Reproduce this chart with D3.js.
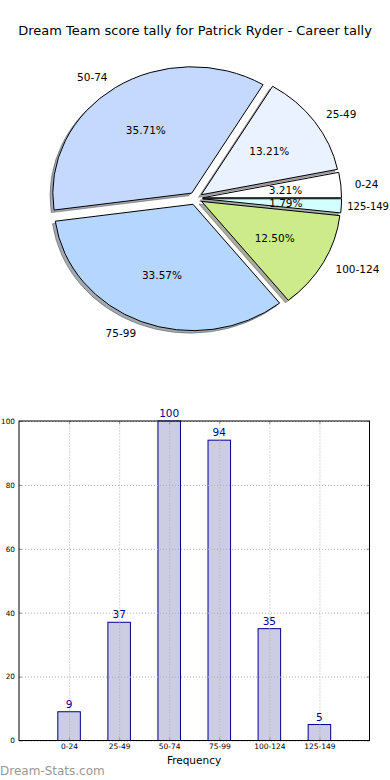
<!DOCTYPE html>
<html><head><meta charset="utf-8">
<script src="https://cdn.jsdelivr.net/npm/d3@7"></script>
<style>
html,body{margin:0;padding:0;background:#fff;}
svg{display:block;font-family:"DejaVu Sans",sans-serif;}
</style></head>
<body>
<svg id="c" width="390" height="780"></svg>
<script>
const titleText = "Dream Team score tally for Patrick Ryder - Career tally";
const categories = ["0-24","25-49","50-74","75-99","100-124","125-149"];
const counts = [9,37,100,94,35,5];
const yTicks = [0,20,40,60,80,100];
const pieColors = ["#ffffff","#eaf1ff","#c5d9ff","#b5d6ff","#cdeb8b","#d4ffff"];

const svg = d3.select("#c");
svg.append("rect").attr("width",390).attr("height",780).attr("fill","#fff");

svg.append("text").attr("x",195).attr("y",30).attr("text-anchor","middle")
  .attr("dominant-baseline","central").attr("font-size",13).attr("fill","#000").text(titleText);

// ---------- Pie ----------
const cx = 195.6, cy = 198.4, rx = 139, ry = 126.4, explode = 0.05;
const total = d3.sum(counts);
const pie = d3.pie().sort(null).startAngle(0).endAngle(2*Math.PI);
const arcsData = pie(counts);
const arc = d3.arc().innerRadius(0).outerRadius(1);
function toD3(a){ // math angle (ccw from east) -> d3 arc angles
  return {startAngle: Math.PI/2 - a.endAngle, endAngle: Math.PI/2 - a.startAngle};
}
const pieG = svg.append("g");
const shadowG = pieG.append("g"), wedgeG = pieG.append("g"), labelG = pieG.append("g");
arcsData.forEach((a,i)=>{
  const mid = (a.startAngle + a.endAngle)/2;
  const ox = cx + explode*rx*Math.cos(mid), oy = cy - explode*ry*Math.sin(mid);
  const col = d3.rgb(pieColors[i]);
  const shadowCol = d3.rgb(col.r*0.3, col.g*0.3, col.b*0.3);
  shadowG.append("path").attr("d", arc(toD3(a)))
    .attr("transform",`translate(${ox-0.02*rx},${oy+0.02*ry}) scale(${rx},${ry})`)
    .attr("fill", shadowCol).attr("fill-opacity",0.45)
    .attr("stroke", shadowCol).attr("stroke-opacity",0.45).attr("stroke-width",1)
    .attr("vector-effect","non-scaling-stroke");
  wedgeG.append("path").attr("d", arc(toD3(a)))
    .attr("transform",`translate(${ox},${oy}) scale(${rx},${ry})`)
    .attr("fill", pieColors[i]).attr("stroke","#000").attr("stroke-width",1)
    .attr("vector-effect","non-scaling-stroke");
  let lx = ox + 1.1*rx*Math.cos(mid);
  const ly = oy - 1.1*ry*Math.sin(mid);
  const lab = labelG.append("text").attr("x",lx).attr("y",ly)
    .attr("text-anchor", Math.cos(mid) > 0 ? "start" : "end")
    .attr("dominant-baseline","central").attr("font-size",10.5).text(categories[i]);
  // keep label inside the page: nudge left a little, then shrink if still too wide
  if (Math.cos(mid) > 0) {
    const w = lab.node().getComputedTextLength();
    if (lx + w > 389) {
      lx = Math.max(lx - 8, 389 - w);
      lab.attr("x", lx);
      if (lx + w > 389) lab.attr("font-size", 10.5 * (389 - lx) / w);
    }
  }
  const px = ox + 0.6*rx*Math.cos(mid), py = oy - 0.6*ry*Math.sin(mid);
  labelG.append("text").attr("x",px).attr("y",py).attr("text-anchor","middle")
    .attr("dominant-baseline","central").attr("font-size",10.5)
    .text((counts[i]/total*100).toFixed(2) + "%");
});

// ---------- Bar chart ----------
const L = 19, R = 369.5, T = 421, B = 740.5;
const x = d3.scaleLinear().domain([-1,6]).range([L,R]);
const y = d3.scaleLinear().domain([0,100]).range([B,T]);
const barW = 0.45;
const g = svg.append("g");

// bars
g.append("g").selectAll("rect").data(counts).join("rect")
  .attr("x",(d,i)=>x(i-barW/2)).attr("width",x(barW)-x(0))
  .attr("y",d=>y(d)).attr("height",d=>B-y(d))
  .attr("fill","#cccce4").attr("stroke","#00008b").attr("stroke-width",1);

// grid (drawn over bars)
const gy = g.append("g").attr("transform",`translate(${L},0)`)
  .call(d3.axisLeft(y).tickValues(yTicks).tickSize(-(R-L)).tickPadding(4).tickFormat(d3.format("d")));
gy.select(".domain").remove();
gy.selectAll("line").attr("stroke","#b0b0b0").attr("stroke-dasharray","1,2");
gy.selectAll("text").attr("font-size",7.3).attr("fill","#000").attr("font-family","DejaVu Sans");

const gx = g.append("g").attr("transform",`translate(0,${B})`)
  .call(d3.axisBottom(x).tickValues(d3.range(categories.length)).tickSize(-(B-T)).tickPadding(3)
    .tickFormat(i=>categories[i]));
gx.select(".domain").remove();
gx.selectAll("line").attr("stroke","#b0b0b0").attr("stroke-dasharray","1,2");
gx.selectAll("text").attr("font-size",7.5).attr("fill","#000").attr("font-family","DejaVu Sans");

// inner tick marks
const tk = "#999";
[["axisTop",`translate(0,${T})`,x,d3.range(categories.length)],
 ["axisBottom",`translate(0,${B})`,x,d3.range(categories.length)],
 ["axisLeft",`translate(${L},0)`,y,yTicks],
 ["axisRight",`translate(${R},0)`,y,yTicks]].forEach(([fn,tr,sc,vals])=>{
  const a = g.append("g").attr("transform",tr).call(d3[fn](sc).tickValues(vals).tickSize(-3).tickFormat(""));
  a.select(".domain").remove();
  a.selectAll("line").attr("stroke",tk);
});

// frame
g.append("rect").attr("x",L).attr("y",T).attr("width",R-L).attr("height",B-T)
  .attr("fill","none").attr("stroke","#000").attr("stroke-width",1);

// value labels
g.append("g").selectAll("text").data(counts).join("text")
  .attr("x",(d,i)=>x(i)).attr("y",d=>y(d)-4).attr("text-anchor","middle")
  .attr("font-size",10.5).attr("fill","#00008b").text(d=>d);

svg.append("text").attr("x",194).attr("y",760).attr("text-anchor","middle")
  .attr("dominant-baseline","central").attr("font-size",10.5).text("Frequency");

svg.append("text").attr("x",0).attr("y",775).attr("font-size",12)
  .attr("fill","#999").text("Dream-Stats.com");
</script>
</body></html>
